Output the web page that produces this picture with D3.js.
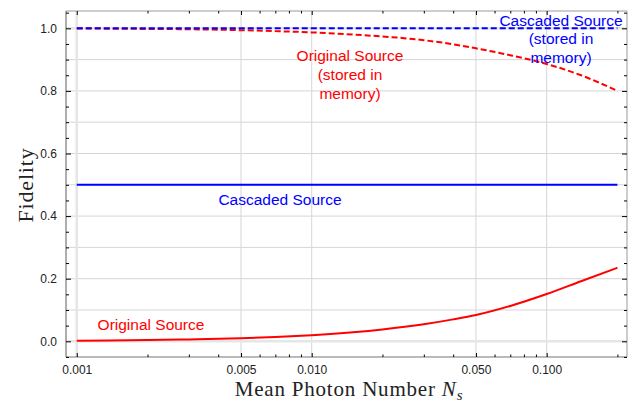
<!DOCTYPE html>
<html>
<head>
<meta charset="utf-8">
<script src="https://cdn.jsdelivr.net/npm/d3@7"></script>
<style>
  html, body { margin: 0; padding: 0; background: #fff; }
  svg { display: block; }
</style>
</head>
<body>
<svg id="chart" width="644" height="402"></svg>
<script>
// Mean photon number samples (log axis)
const photonN = [0.001, 0.002, 0.003, 0.005, 0.007, 0.01, 0.015, 0.02, 0.03, 0.04, 0.05, 0.07, 0.1, 0.14, 0.2];
// Fidelity of the original source (solid red)
const originalFid = [0.002, 0.004, 0.006, 0.0097, 0.0135, 0.0195, 0.029, 0.038, 0.0545, 0.070, 0.084, 0.113, 0.151, 0.192, 0.235];
// Fidelity of the original source, stored in memory (dashed red)
const originalStoredFid = [0.9995, 0.998, 0.997, 0.994, 0.991, 0.987, 0.980, 0.974, 0.962, 0.949, 0.936, 0.914, 0.886, 0.850, 0.800];
// Cascaded source fidelities (constant)
const cascadedN = [0.001, 0.2];
const cascadedFid = [0.5, 0.5];
const cascadedStoredFid = [1.0, 1.0];

const xTickVals = [0.001, 0.005, 0.01, 0.05, 0.1];
const xTickLabels = ["0.001", "0.005", "0.010", "0.050", "0.100"];
const xMinorVals = [0.002, 0.003, 0.004, 0.006, 0.007, 0.008, 0.009, 0.02, 0.03, 0.04, 0.06, 0.07, 0.08, 0.09, 0.2];
const yTickVals = [0.0, 0.2, 0.4, 0.6, 0.8, 1.0];
const yTickLabels = ["0.0", "0.2", "0.4", "0.6", "0.8", "1.0"];
const yGridVals = [0.1, 0.2, 0.3, 0.4, 0.5, 0.6, 0.7, 0.8, 0.9];
const yMinorVals = [-0.05, 0.05, 0.1, 0.15, 0.25, 0.3, 0.35, 0.45, 0.5, 0.55, 0.65, 0.7, 0.75, 0.85, 0.9, 0.95, 1.05];

const RED = "#ff0000", BLUE = "#0000ff";
const svg = d3.select("#chart");
const L = 66, R = 627, T = 11, B = 357;

const x = d3.scaleLog().domain([0.0009, 0.2197]).range([L, R]);
const y = d3.scaleLinear().domain([-0.0502, 1.0553]).range([B, T]);

// grid
const grid = svg.append("g");
grid.selectAll(".gx").data(xTickVals.slice(1)).enter().append("line")
  .attr("x1", d => x(d)).attr("x2", d => x(d)).attr("y1", T).attr("y2", B)
  .attr("stroke", "#d6d6d6").attr("stroke-width", 1);
grid.selectAll(".gy").data(yGridVals).enter().append("line")
  .attr("x1", L).attr("x2", R).attr("y1", d => y(d)).attr("y2", d => y(d))
  .attr("stroke", "#d6d6d6").attr("stroke-width", 1);
// origin lines (slightly wider, lighter)
grid.selectAll(".gy0").data([0, 1]).enter().append("line")
  .attr("x1", L).attr("x2", R).attr("y1", d => y(d)).attr("y2", d => y(d))
  .attr("stroke", "#e6e6e6").attr("stroke-width", 2.5);
grid.append("line")
  .attr("x1", x(0.001)).attr("x2", x(0.001)).attr("y1", T).attr("y2", B)
  .attr("stroke", "#e6e6e6").attr("stroke-width", 2.5);

// curves
const line = d3.line().x(d => x(d[0])).y(d => y(d[1])).curve(d3.curveMonotoneX);
const plot = svg.append("g");
plot.append("path").datum(cascadedN.map((n, i) => [n, cascadedFid[i]]))
  .attr("d", line).attr("fill", "none").attr("stroke", BLUE).attr("stroke-width", 2);
plot.append("path").datum(photonN.map((n, i) => [n, originalFid[i]]))
  .attr("d", line).attr("fill", "none").attr("stroke", RED).attr("stroke-width", 2);
plot.append("path").datum(photonN.map((n, i) => [n, originalStoredFid[i]]))
  .attr("d", line).attr("fill", "none").attr("stroke", RED).attr("stroke-width", 2)
  .attr("stroke-dasharray", "6,3");
plot.append("path").datum(cascadedN.map((n, i) => [n, cascadedStoredFid[i]]))
  .attr("d", line).attr("fill", "none").attr("stroke", BLUE).attr("stroke-width", 2)
  .attr("stroke-dasharray", "6,3");

// frame
const frame = svg.append("g");
frame.append("line").attr("x1", L).attr("x2", R).attr("y1", T).attr("y2", T).attr("stroke", "#bdbdbd").attr("stroke-width", 1.5);
frame.append("line").attr("x1", R).attr("x2", R).attr("y1", T).attr("y2", B).attr("stroke", "#bdbdbd").attr("stroke-width", 1.5);
frame.append("line").attr("x1", L).attr("x2", R).attr("y1", B).attr("y2", B).attr("stroke", "#777").attr("stroke-width", 1.2);
frame.append("line").attr("x1", L).attr("x2", L).attr("y1", T).attr("y2", B).attr("stroke", "#777").attr("stroke-width", 1.2);

// axes with inward ticks on all four sides
const tickFont = "'Liberation Sans', Arial, sans-serif";
function styleAxis(g) {
  g.select(".domain").remove();
  g.selectAll(".tick line").attr("stroke", "#000").attr("stroke-width", 1);
  g.selectAll(".tick text").attr("fill", "#222").style("font-family", tickFont).style("font-size", "12px");
}
svg.append("g").attr("transform", `translate(0,${B})`)
  .call(d3.axisBottom(x).tickValues(xTickVals).tickFormat((d, i) => xTickLabels[i]).tickSizeInner(-4).tickPadding(8))
  .call(styleAxis);
svg.append("g").attr("transform", `translate(0,${B})`)
  .call(d3.axisBottom(x).tickValues(xMinorVals).tickFormat("").tickSizeInner(-2.5)).call(styleAxis);
svg.append("g").attr("transform", `translate(0,${T})`)
  .call(d3.axisTop(x).tickValues(xTickVals).tickFormat("").tickSizeInner(-4)).call(styleAxis);
svg.append("g").attr("transform", `translate(0,${T})`)
  .call(d3.axisTop(x).tickValues(xMinorVals).tickFormat("").tickSizeInner(-2.5)).call(styleAxis);

svg.append("g").attr("transform", `translate(${L},0)`)
  .call(d3.axisLeft(y).tickValues(yTickVals).tickFormat((d, i) => yTickLabels[i]).tickSizeInner(-5).tickPadding(9))
  .call(styleAxis);
svg.append("g").attr("transform", `translate(${L},0)`)
  .call(d3.axisLeft(y).tickValues(yMinorVals).tickFormat("").tickSizeInner(-3)).call(styleAxis);
svg.append("g").attr("transform", `translate(${R},0)`)
  .call(d3.axisRight(y).tickValues(yTickVals).tickFormat("").tickSizeInner(-5)).call(styleAxis);
svg.append("g").attr("transform", `translate(${R},0)`)
  .call(d3.axisRight(y).tickValues(yMinorVals).tickFormat("").tickSizeInner(-3)).call(styleAxis);

// axis titles
const serif = "'Liberation Serif', 'Times New Roman', serif";
const xt = svg.append("text").attr("x", 349).attr("y", 395.5).attr("text-anchor", "middle")
  .style("font-family", serif).style("font-size", "21px").style("letter-spacing", "0.8px").attr("fill", "#222");
xt.append("tspan").text("Mean Photon Number ");
xt.append("tspan").style("font-style", "italic").text("N");
xt.append("tspan").attr("dy", 4).style("font-size", "15px").style("font-style", "italic").text("s");

svg.append("text").attr("transform", "translate(33,185) rotate(-90)").attr("text-anchor", "middle")
  .style("font-family", serif).style("font-size", "22px").style("letter-spacing", "0.8px").attr("fill", "#222").text("Fidelity");

// curve labels
const lblFont = "'Liberation Sans', Arial, sans-serif";
function label(lines, cx, y0, dy, color) {
  const t = svg.append("text").attr("text-anchor", "middle")
    .style("font-family", lblFont).style("font-size", "15.5px").attr("fill", color);
  lines.forEach((s, i) => t.append("tspan").attr("x", cx).attr("y", y0 + i * dy).text(s));
}
label(["Cascaded Source", "(stored in", "memory)"], 561, 25.5, 18.6, BLUE);
label(["Original Source", "(stored in", "memory)"], 350, 61, 19, RED);
label(["Cascaded Source"], 280, 204.5, 0, BLUE);
label(["Original Source"], 151, 329.5, 0, RED);
</script>
</body>
</html>
